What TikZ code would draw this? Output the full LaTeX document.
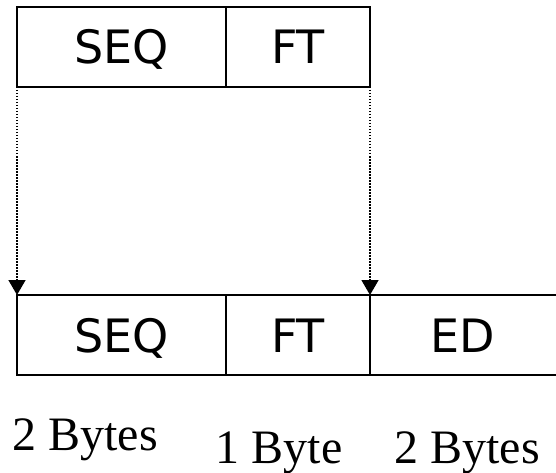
\documentclass[tikz,border=0pt]{standalone}
\usepackage{fontspec}
\setmainfont{Liberation Serif}
\newfontfamily\cellfont{DejaVu Sans}
\usepackage{tikz}
\usetikzlibrary{arrows.meta}
\usetikzlibrary{positioning}

\begin{document}
\begin{tikzpicture}[x=1pt,y=-1pt]
\tikzstyle{cell} = [rectangle, draw=black, line width=1.8pt, minimum height=80pt,
inner sep=0pt, outer sep=0pt, text height=34pt, text depth=0pt,
font=\cellfont\fontsize{46}{50}\selectfont]
\tikzstyle{opencell} = [cell, draw=none]
\tikzstyle{size} = [anchor=base, inner sep=0pt, font=\fontsize{48}{52}\selectfont]
\tikzstyle{line} = [draw, line width=1.5pt, dash pattern=on 1.5pt off 1.5pt,
-{Triangle[width=17pt,length=15pt]}]
\useasboundingbox (0,0) rectangle (556,473);
% top frame
\node [cell, minimum width=209pt, anchor=north west] (seqtop) at (17,7) {SEQ};
\node [cell, minimum width=144pt, right=0pt of seqtop] (fttop) {FT};
% bottom frame
\node [cell, minimum width=209pt, anchor=north west] (seqbot) at (17,295) {SEQ};
\node [cell, minimum width=144pt, right=0pt of seqbot] (ftbot) {FT};
\node [opencell, minimum width=186pt, right=0pt of ftbot] (edbot) {ED};
\draw [line width=1.8pt] (edbot.north west) -- (edbot.north east);
\draw [line width=1.8pt] (edbot.south west) -- (edbot.south east);
% sizes
\node [size] (sizeseq) at (85,450) {2 Bytes};
\node [size] (sizeft) at (279,463) {1 Byte};
\node [size] (sizeed) at (467,463) {2 Bytes};
% copied fields
\draw [line] (seqtop.south west) -- (seqbot.north west);
\draw [line] (fttop.south east) -- (ftbot.north east);
\end{tikzpicture}
\end{document}
